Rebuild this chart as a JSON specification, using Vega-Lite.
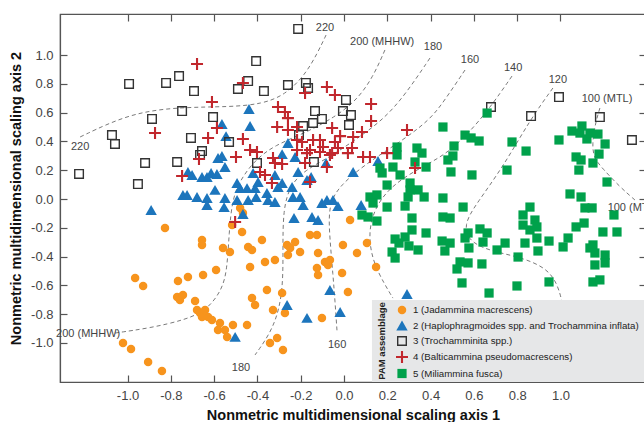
{
  "$schema": "https://vega.github.io/schema/vega-lite/v6.json",
  "width": 586,
  "height": 368,
  "autosize": {"type": "none"},
  "padding": {"left": 60, "top": 14, "right": 0, "bottom": 40},
  "background": "white",
  "config": {
    "view": {"stroke": "#555", "strokeWidth": 1.2},
    "font": "Liberation Sans, Arial, sans-serif",
    "legend": {"orient": "none", "legendX": 330, "legendY": 286, "title": null, "padding": 5, "rowPadding": -1, "labelFontSize": 9.7, "labelColor": "#222", "labelLimit": 400, "labelOffset": 4}
  },
  "resolve": {"axis": {"x": "independent", "y": "independent"}},
  "datasets": {
    "contours": [
      {"c": "220", "i": 0, "x": -1.219, "y": 0.431},
      {"c": "220", "i": 1, "x": -0.988, "y": 0.597},
      {"c": "220", "i": 2, "x": -0.757, "y": 0.639},
      {"c": "220", "i": 3, "x": -0.527, "y": 0.639},
      {"c": "220", "i": 4, "x": -0.379, "y": 0.66},
      {"c": "220", "i": 5, "x": -0.273, "y": 0.722},
      {"c": "220", "i": 6, "x": -0.18, "y": 0.861},
      {"c": "220", "i": 7, "x": -0.12, "y": 1.021},
      {"c": "220", "i": 8, "x": -0.083, "y": 1.139},
      {"c": "200", "i": 0, "x": 0.189, "y": 1.035},
      {"c": "200", "i": 1, "x": 0.134, "y": 0.847},
      {"c": "200", "i": 2, "x": 0.06, "y": 0.688},
      {"c": "200", "i": 3, "x": -0.042, "y": 0.569},
      {"c": "200", "i": 4, "x": -0.18, "y": 0.458},
      {"c": "200", "i": 5, "x": -0.319, "y": 0.375},
      {"c": "200", "i": 6, "x": -0.411, "y": 0.271},
      {"c": "200", "i": 7, "x": -0.48, "y": 0.132},
      {"c": "200", "i": 8, "x": -0.517, "y": -0.007},
      {"c": "200", "i": 9, "x": -0.531, "y": -0.236},
      {"c": "200", "i": 10, "x": -0.54, "y": -0.493},
      {"c": "200", "i": 11, "x": -0.564, "y": -0.632},
      {"c": "200", "i": 12, "x": -0.633, "y": -0.771},
      {"c": "200", "i": 13, "x": -0.734, "y": -0.84},
      {"c": "200", "i": 14, "x": -0.896, "y": -0.896},
      {"c": "200", "i": 15, "x": -1.058, "y": -0.931},
      {"c": "180", "i": 0, "x": 0.397, "y": 0.979},
      {"c": "180", "i": 1, "x": 0.282, "y": 0.722},
      {"c": "180", "i": 2, "x": 0.18, "y": 0.549},
      {"c": "180", "i": 3, "x": 0.051, "y": 0.41},
      {"c": "180", "i": 4, "x": -0.065, "y": 0.292},
      {"c": "180", "i": 5, "x": -0.18, "y": 0.201},
      {"c": "180", "i": 6, "x": -0.249, "y": 0.097},
      {"c": "180", "i": 7, "x": -0.282, "y": -0.076},
      {"c": "180", "i": 8, "x": -0.282, "y": -0.354},
      {"c": "180", "i": 9, "x": -0.282, "y": -0.653},
      {"c": "180", "i": 10, "x": -0.323, "y": -0.896},
      {"c": "180", "i": 11, "x": -0.411, "y": -1.083},
      {"c": "160", "i": 0, "x": 0.559, "y": 0.896},
      {"c": "160", "i": 1, "x": 0.466, "y": 0.688},
      {"c": "160", "i": 2, "x": 0.397, "y": 0.549},
      {"c": "160", "i": 3, "x": 0.259, "y": 0.396},
      {"c": "160", "i": 4, "x": 0.106, "y": 0.25},
      {"c": "160", "i": 5, "x": -0.018, "y": 0.097},
      {"c": "160", "i": 6, "x": -0.074, "y": -0.042},
      {"c": "160", "i": 7, "x": -0.065, "y": -0.285},
      {"c": "160", "i": 8, "x": -0.051, "y": -0.528},
      {"c": "160", "i": 9, "x": -0.042, "y": -0.701},
      {"c": "160", "i": 10, "x": -0.032, "y": -0.924},
      {"c": "140", "i": 0, "x": 0.776, "y": 0.854},
      {"c": "140", "i": 1, "x": 0.674, "y": 0.632},
      {"c": "140", "i": 2, "x": 0.568, "y": 0.444},
      {"c": "140", "i": 3, "x": 0.466, "y": 0.306},
      {"c": "140", "i": 4, "x": 0.351, "y": 0.215},
      {"c": "140", "i": 5, "x": 0.236, "y": 0.111},
      {"c": "140", "i": 6, "x": 0.152, "y": -0.028},
      {"c": "140", "i": 7, "x": 0.111, "y": -0.215},
      {"c": "140", "i": 8, "x": 0.129, "y": -0.424},
      {"c": "140", "i": 9, "x": 0.189, "y": -0.597},
      {"c": "140", "i": 10, "x": 0.226, "y": -0.688},
      {"c": "120", "i": 0, "x": 0.965, "y": 0.771},
      {"c": "120", "i": 1, "x": 0.859, "y": 0.549},
      {"c": "120", "i": 2, "x": 0.734, "y": 0.222},
      {"c": "120", "i": 3, "x": 0.614, "y": -0.028},
      {"c": "120", "i": 4, "x": 0.55, "y": -0.181},
      {"c": "120", "i": 5, "x": 0.582, "y": -0.306},
      {"c": "120", "i": 6, "x": 0.697, "y": -0.368},
      {"c": "120", "i": 7, "x": 0.813, "y": -0.403},
      {"c": "120", "i": 8, "x": 0.938, "y": -0.479},
      {"c": "120", "i": 9, "x": 0.988, "y": -0.597},
      {"c": "120", "i": 10, "x": 1.007, "y": -0.715},
      {"c": "100", "i": 0, "x": 1.182, "y": 0.632},
      {"c": "100", "i": 1, "x": 1.159, "y": 0.514},
      {"c": "100", "i": 2, "x": 1.146, "y": 0.375},
      {"c": "100", "i": 3, "x": 1.155, "y": 0.285},
      {"c": "100", "i": 4, "x": 1.192, "y": 0.215},
      {"c": "100", "i": 5, "x": 1.275, "y": 0.083},
      {"c": "100", "i": 6, "x": 1.344, "y": -0.007}
    ],
    "labels": [
      {"t": "220", "x": -1.219, "y": 0.361},
      {"t": "220", "x": -0.088, "y": 1.188},
      {"t": "200 (MHHW)", "x": 0.176, "y": 1.09},
      {"t": "200 (MHHW)", "x": -1.182, "y": -0.938},
      {"t": "180", "x": 0.411, "y": 1.056},
      {"t": "180", "x": -0.476, "y": -1.174},
      {"t": "160", "x": 0.582, "y": 0.965},
      {"t": "160", "x": -0.032, "y": -1.014},
      {"t": "140", "x": 0.781, "y": 0.91},
      {"t": "120", "x": 0.988, "y": 0.826},
      {"t": "100 (MTL)", "x": 1.215, "y": 0.694},
      {"t": "100 (MTL)", "x": 1.335, "y": -0.062}
    ],
    "legendbox": [
      {"x": 0.129, "x2": 1.395, "y": -0.701, "y2": -1.271}
    ],
    "legendtitle": [
      {"t": "PAM assemblage", "x": 0.176, "y": -0.986}
    ],
    "points": [
      {"g": 1, "x": -0.827, "y": -0.201}, {"g": 1, "x": -0.965, "y": -0.549}, {"g": 1, "x": -0.928, "y": -0.604},
      {"g": 1, "x": -0.656, "y": -0.285}, {"g": 1, "x": -0.656, "y": -0.319}, {"g": 1, "x": -0.591, "y": -0.493},
      {"g": 1, "x": -0.651, "y": -0.528}, {"g": 1, "x": -0.721, "y": -0.542}, {"g": 1, "x": -0.767, "y": -0.569},
      {"g": 1, "x": -0.771, "y": -0.681}, {"g": 1, "x": -0.758, "y": -0.701}, {"g": 1, "x": -0.744, "y": -0.667},
      {"g": 1, "x": -0.688, "y": -0.708}, {"g": 1, "x": -0.679, "y": -0.771}, {"g": 1, "x": -0.665, "y": -0.792},
      {"g": 1, "x": -0.656, "y": -0.819}, {"g": 1, "x": -0.628, "y": -0.819}, {"g": 1, "x": -0.61, "y": -0.84},
      {"g": 1, "x": -0.573, "y": -0.861}, {"g": 1, "x": -0.582, "y": -0.91}, {"g": 1, "x": -1.021, "y": -1.0},
      {"g": 1, "x": -0.984, "y": -1.042}, {"g": 1, "x": -0.905, "y": -1.132}, {"g": 1, "x": -0.841, "y": -1.194},
      {"g": 1, "x": -0.48, "y": -0.062}, {"g": 1, "x": -0.467, "y": -0.097}, {"g": 1, "x": -0.517, "y": -0.181},
      {"g": 1, "x": -0.471, "y": -0.229}, {"g": 1, "x": -0.559, "y": -0.34}, {"g": 1, "x": -0.527, "y": -0.368},
      {"g": 1, "x": -0.443, "y": -0.333}, {"g": 1, "x": -0.425, "y": -0.354}, {"g": 1, "x": -0.379, "y": -0.285},
      {"g": 1, "x": -0.263, "y": -0.319}, {"g": 1, "x": -0.249, "y": -0.34}, {"g": 1, "x": -0.226, "y": -0.299},
      {"g": 1, "x": -0.203, "y": -0.368}, {"g": 1, "x": -0.259, "y": -0.389}, {"g": 1, "x": -0.319, "y": -0.424},
      {"g": 1, "x": -0.365, "y": -0.437}, {"g": 1, "x": -0.434, "y": -0.472}, {"g": 1, "x": -0.157, "y": -0.25},
      {"g": 1, "x": -0.125, "y": -0.25}, {"g": 1, "x": -0.12, "y": -0.375}, {"g": 1, "x": -0.088, "y": -0.437},
      {"g": 1, "x": -0.065, "y": -0.424}, {"g": 1, "x": -0.125, "y": -0.479}, {"g": 1, "x": -0.12, "y": -0.528},
      {"g": 1, "x": -0.074, "y": -0.458}, {"g": 1, "x": -0.009, "y": -0.514}, {"g": 1, "x": -0.005, "y": -0.319},
      {"g": 1, "x": 0.06, "y": -0.375}, {"g": 1, "x": 0.106, "y": -0.306}, {"g": 1, "x": 0.148, "y": -0.472},
      {"g": 1, "x": 0.028, "y": -0.146}, {"g": 1, "x": 0.018, "y": -0.646}, {"g": 1, "x": -0.356, "y": -0.632},
      {"g": 1, "x": -0.286, "y": -0.653}, {"g": 1, "x": -0.425, "y": -0.688}, {"g": 1, "x": -0.411, "y": -0.736},
      {"g": 1, "x": -0.328, "y": -0.771}, {"g": 1, "x": -0.273, "y": -0.792}, {"g": 1, "x": -0.642, "y": -0.771},
      {"g": 1, "x": -0.55, "y": -0.91}, {"g": 1, "x": -0.513, "y": -0.875}, {"g": 1, "x": -0.448, "y": -0.875},
      {"g": 1, "x": -0.54, "y": -0.958}, {"g": 1, "x": -0.309, "y": -0.965}, {"g": 1, "x": -0.342, "y": -1.0},
      {"g": 1, "x": -0.282, "y": -1.049}, {"g": 1, "x": -0.102, "y": -0.826},
      {"g": 2, "x": -0.721, "y": 0.188}, {"g": 2, "x": -0.702, "y": 0.167}, {"g": 2, "x": -0.656, "y": 0.153},
      {"g": 2, "x": -0.633, "y": 0.153}, {"g": 2, "x": -0.614, "y": 0.181}, {"g": 2, "x": -0.587, "y": 0.174},
      {"g": 2, "x": -0.582, "y": 0.285}, {"g": 2, "x": -0.564, "y": 0.521}, {"g": 2, "x": -0.744, "y": 0.028},
      {"g": 2, "x": -0.725, "y": 0.028}, {"g": 2, "x": -0.679, "y": 0.014}, {"g": 2, "x": -0.633, "y": 0.007},
      {"g": 2, "x": -0.596, "y": 0.063}, {"g": 2, "x": -0.633, "y": -0.042}, {"g": 2, "x": -0.891, "y": -0.076},
      {"g": 2, "x": -0.439, "y": 0.625}, {"g": 2, "x": -0.434, "y": 0.507}, {"g": 2, "x": -0.545, "y": 0.437},
      {"g": 2, "x": -0.259, "y": 0.389}, {"g": 2, "x": -0.286, "y": 0.312}, {"g": 2, "x": -0.564, "y": 0.299},
      {"g": 2, "x": -0.226, "y": 0.292}, {"g": 2, "x": -0.55, "y": 0.222}, {"g": 2, "x": -0.494, "y": 0.111},
      {"g": 2, "x": -0.48, "y": 0.076}, {"g": 2, "x": -0.448, "y": 0.076}, {"g": 2, "x": -0.397, "y": 0.118},
      {"g": 2, "x": -0.411, "y": 0.076}, {"g": 2, "x": -0.356, "y": 0.042}, {"g": 2, "x": -0.319, "y": 0.167},
      {"g": 2, "x": -0.305, "y": 0.083}, {"g": 2, "x": -0.286, "y": 0.111}, {"g": 2, "x": -0.24, "y": 0.083},
      {"g": 2, "x": -0.55, "y": 0.007}, {"g": 2, "x": -0.554, "y": -0.056}, {"g": 2, "x": -0.494, "y": -0.007},
      {"g": 2, "x": -0.443, "y": -0.007}, {"g": 2, "x": -0.406, "y": 0.014}, {"g": 2, "x": -0.351, "y": -0.007},
      {"g": 2, "x": -0.319, "y": -0.021}, {"g": 2, "x": -0.236, "y": 0.014}, {"g": 2, "x": -0.231, "y": -0.132},
      {"g": 2, "x": -0.083, "y": 0.25}, {"g": 2, "x": 0.042, "y": 0.188}, {"g": 2, "x": 0.157, "y": 0.264},
      {"g": 2, "x": -0.212, "y": 0.188}, {"g": 2, "x": -0.171, "y": 0.132}, {"g": 2, "x": -0.152, "y": 0.153},
      {"g": 2, "x": -0.203, "y": 0.014}, {"g": 2, "x": -0.189, "y": -0.042}, {"g": 2, "x": -0.102, "y": -0.028},
      {"g": 2, "x": -0.079, "y": -0.007}, {"g": 2, "x": -0.051, "y": -0.007}, {"g": 2, "x": -0.028, "y": -0.049},
      {"g": 2, "x": 0.079, "y": -0.042}, {"g": 2, "x": -0.148, "y": -0.125}, {"g": 2, "x": -0.12, "y": -0.146},
      {"g": 2, "x": -0.467, "y": -0.104}, {"g": 2, "x": -0.065, "y": -0.632}, {"g": 2, "x": -0.018, "y": -0.785},
      {"g": 2, "x": -0.171, "y": -0.826}, {"g": 2, "x": -0.263, "y": -0.736}, {"g": 2, "x": -0.503, "y": -0.958},
      {"g": 2, "x": 0.291, "y": -0.66}, {"g": 2, "x": -0.42, "y": 0.181},
      {"g": 3, "x": -1.224, "y": 0.174}, {"g": 3, "x": -0.993, "y": 0.799}, {"g": 3, "x": -0.822, "y": 0.806},
      {"g": 3, "x": -0.762, "y": 0.854}, {"g": 3, "x": -0.693, "y": 0.75}, {"g": 3, "x": -0.887, "y": 0.556},
      {"g": 3, "x": -0.748, "y": 0.611}, {"g": 3, "x": -0.605, "y": 0.569}, {"g": 3, "x": -1.072, "y": 0.444},
      {"g": 3, "x": -1.058, "y": 0.382}, {"g": 3, "x": -0.707, "y": 0.424}, {"g": 3, "x": -0.656, "y": 0.333},
      {"g": 3, "x": -0.665, "y": 0.306}, {"g": 3, "x": -0.919, "y": 0.25}, {"g": 3, "x": -0.771, "y": 0.257},
      {"g": 3, "x": -0.952, "y": 0.104}, {"g": 3, "x": -0.212, "y": 1.181}, {"g": 3, "x": -0.406, "y": 0.958},
      {"g": 3, "x": -0.443, "y": 0.819}, {"g": 3, "x": -0.49, "y": 0.764}, {"g": 3, "x": -0.37, "y": 0.75},
      {"g": 3, "x": -0.259, "y": 0.792}, {"g": 3, "x": -0.176, "y": 0.806}, {"g": 3, "x": -0.166, "y": 0.771},
      {"g": 3, "x": 0.009, "y": 0.688}, {"g": 3, "x": -0.134, "y": 0.611}, {"g": 3, "x": -0.102, "y": 0.556},
      {"g": 3, "x": -0.143, "y": 0.528}, {"g": 3, "x": -0.005, "y": 0.611}, {"g": 3, "x": 0.032, "y": 0.583},
      {"g": 3, "x": -0.189, "y": 0.507}, {"g": 3, "x": 0.023, "y": 0.514}, {"g": 3, "x": -0.531, "y": 0.396},
      {"g": 3, "x": -0.208, "y": 0.444}, {"g": 3, "x": -0.402, "y": 0.25}, {"g": 3, "x": -0.139, "y": 0.257},
      {"g": 3, "x": 0.679, "y": 0.639}, {"g": 3, "x": 0.864, "y": 0.576}, {"g": 3, "x": 0.993, "y": 0.708},
      {"g": 3, "x": 1.182, "y": 0.569}, {"g": 3, "x": 1.33, "y": 0.41},
      {"g": 5, "x": 0.245, "y": 0.361}, {"g": 5, "x": 0.245, "y": 0.306}, {"g": 5, "x": 0.337, "y": 0.354},
      {"g": 5, "x": 0.36, "y": 0.319}, {"g": 5, "x": 0.166, "y": 0.215}, {"g": 5, "x": 0.176, "y": 0.181},
      {"g": 5, "x": 0.226, "y": 0.222}, {"g": 5, "x": 0.259, "y": 0.167}, {"g": 5, "x": 0.305, "y": 0.111},
      {"g": 5, "x": 0.328, "y": 0.257}, {"g": 5, "x": 0.379, "y": 0.222}, {"g": 5, "x": 0.199, "y": 0.097},
      {"g": 5, "x": 0.12, "y": 0.014}, {"g": 5, "x": 0.152, "y": 0.028}, {"g": 5, "x": 0.305, "y": 0.063},
      {"g": 5, "x": 0.342, "y": 0.063}, {"g": 5, "x": 0.296, "y": 0.014}, {"g": 5, "x": 0.37, "y": 0.014},
      {"g": 5, "x": 0.457, "y": 0.007}, {"g": 5, "x": 0.134, "y": -0.028}, {"g": 5, "x": 0.199, "y": -0.056},
      {"g": 5, "x": 0.282, "y": -0.049}, {"g": 5, "x": 0.083, "y": -0.111}, {"g": 5, "x": 0.111, "y": -0.125},
      {"g": 5, "x": 0.152, "y": -0.153}, {"g": 5, "x": 0.314, "y": -0.132}, {"g": 5, "x": 0.457, "y": -0.125},
      {"g": 5, "x": 0.49, "y": -0.132}, {"g": 5, "x": 0.314, "y": -0.215}, {"g": 5, "x": 0.379, "y": -0.236},
      {"g": 5, "x": 0.282, "y": -0.264}, {"g": 5, "x": 0.236, "y": -0.278}, {"g": 5, "x": 0.254, "y": -0.306},
      {"g": 5, "x": 0.3, "y": -0.326}, {"g": 5, "x": 0.342, "y": -0.354}, {"g": 5, "x": 0.222, "y": -0.368},
      {"g": 5, "x": 0.236, "y": -0.41}, {"g": 5, "x": 0.453, "y": -0.292}, {"g": 5, "x": 0.466, "y": -0.361},
      {"g": 5, "x": 0.49, "y": -0.306}, {"g": 5, "x": 0.48, "y": 0.271}, {"g": 5, "x": 0.457, "y": 0.5},
      {"g": 5, "x": 0.559, "y": 0.444}, {"g": 5, "x": 0.587, "y": 0.424}, {"g": 5, "x": 0.624, "y": 0.403},
      {"g": 5, "x": 0.508, "y": 0.368}, {"g": 5, "x": 0.503, "y": 0.299}, {"g": 5, "x": 0.494, "y": 0.188},
      {"g": 5, "x": 0.591, "y": 0.167}, {"g": 5, "x": 0.661, "y": 0.597}, {"g": 5, "x": 0.776, "y": 0.396},
      {"g": 5, "x": 0.841, "y": 0.333}, {"g": 5, "x": 0.753, "y": 0.201}, {"g": 5, "x": 0.55, "y": -0.056},
      {"g": 5, "x": 0.859, "y": -0.056}, {"g": 5, "x": 0.993, "y": 0.41}, {"g": 5, "x": 1.053, "y": 0.472},
      {"g": 5, "x": 1.099, "y": 0.507}, {"g": 5, "x": 1.09, "y": 0.458}, {"g": 5, "x": 1.122, "y": 0.417},
      {"g": 5, "x": 1.136, "y": 0.458}, {"g": 5, "x": 1.173, "y": 0.451}, {"g": 5, "x": 1.206, "y": 0.382},
      {"g": 5, "x": 1.178, "y": 0.312}, {"g": 5, "x": 1.072, "y": 0.292}, {"g": 5, "x": 1.095, "y": 0.271},
      {"g": 5, "x": 1.085, "y": 0.201}, {"g": 5, "x": 1.15, "y": 0.25}, {"g": 5, "x": 1.215, "y": 0.118},
      {"g": 5, "x": 1.044, "y": 0.035}, {"g": 5, "x": 1.095, "y": 0.014}, {"g": 5, "x": 1.113, "y": -0.062},
      {"g": 5, "x": 1.146, "y": -0.062}, {"g": 5, "x": 0.573, "y": -0.236}, {"g": 5, "x": 0.559, "y": -0.271},
      {"g": 5, "x": 0.628, "y": -0.208}, {"g": 5, "x": 0.661, "y": -0.236}, {"g": 5, "x": 0.642, "y": -0.299},
      {"g": 5, "x": 0.577, "y": -0.34}, {"g": 5, "x": 0.707, "y": -0.354}, {"g": 5, "x": 0.744, "y": -0.306},
      {"g": 5, "x": 0.536, "y": -0.437}, {"g": 5, "x": 0.573, "y": -0.444}, {"g": 5, "x": 0.522, "y": -0.486},
      {"g": 5, "x": 0.637, "y": -0.451}, {"g": 5, "x": 0.545, "y": -0.583}, {"g": 5, "x": 0.67, "y": -0.653},
      {"g": 5, "x": 0.799, "y": -0.604}, {"g": 5, "x": 0.804, "y": -0.403}, {"g": 5, "x": 0.836, "y": -0.306},
      {"g": 5, "x": 0.827, "y": -0.111}, {"g": 5, "x": 0.827, "y": -0.181}, {"g": 5, "x": 0.859, "y": -0.215},
      {"g": 5, "x": 0.882, "y": -0.146}, {"g": 5, "x": 0.891, "y": -0.194}, {"g": 5, "x": 0.891, "y": -0.271},
      {"g": 5, "x": 0.896, "y": -0.361}, {"g": 5, "x": 0.947, "y": -0.292}, {"g": 5, "x": 0.947, "y": -0.576},
      {"g": 5, "x": 1.012, "y": -0.333}, {"g": 5, "x": 1.035, "y": -0.271}, {"g": 5, "x": 1.072, "y": -0.194},
      {"g": 5, "x": 1.109, "y": -0.167}, {"g": 5, "x": 1.247, "y": -0.111}, {"g": 5, "x": 1.196, "y": -0.229},
      {"g": 5, "x": 1.261, "y": -0.229}, {"g": 5, "x": 1.136, "y": -0.34}, {"g": 5, "x": 1.15, "y": -0.319},
      {"g": 5, "x": 1.159, "y": -0.375}, {"g": 5, "x": 1.206, "y": -0.389}, {"g": 5, "x": 1.206, "y": -0.444},
      {"g": 5, "x": 1.159, "y": -0.458}, {"g": 5, "x": 1.15, "y": -0.576}, {"g": 5, "x": 1.182, "y": -0.562},
      {"g": 4, "x": -0.679, "y": 0.938}, {"g": 4, "x": -0.61, "y": 0.674}, {"g": 4, "x": -0.873, "y": 0.458},
      {"g": 4, "x": -0.628, "y": 0.424}, {"g": 4, "x": -0.587, "y": 0.493}, {"g": 4, "x": -0.67, "y": 0.278},
      {"g": 4, "x": -0.748, "y": 0.16}, {"g": 4, "x": -0.467, "y": 0.806}, {"g": 4, "x": -0.467, "y": 0.417},
      {"g": 4, "x": -0.434, "y": 0.34}, {"g": 4, "x": -0.402, "y": 0.326}, {"g": 4, "x": -0.499, "y": 0.292},
      {"g": 4, "x": -0.305, "y": 0.639}, {"g": 4, "x": -0.273, "y": 0.604}, {"g": 4, "x": -0.259, "y": 0.562},
      {"g": 4, "x": -0.309, "y": 0.5}, {"g": 4, "x": -0.259, "y": 0.479}, {"g": 4, "x": -0.217, "y": 0.5},
      {"g": 4, "x": -0.217, "y": 0.41}, {"g": 4, "x": -0.217, "y": 0.34}, {"g": 4, "x": -0.328, "y": 0.285},
      {"g": 4, "x": -0.079, "y": 0.778}, {"g": 4, "x": -0.042, "y": 0.722}, {"g": 4, "x": -0.18, "y": 0.736},
      {"g": 4, "x": 0.125, "y": 0.66}, {"g": 4, "x": 0.125, "y": 0.542}, {"g": 4, "x": -0.055, "y": 0.493},
      {"g": 4, "x": -0.018, "y": 0.437}, {"g": 4, "x": 0.083, "y": 0.465}, {"g": 4, "x": 0.042, "y": 0.431},
      {"g": 4, "x": 0.291, "y": 0.479}, {"g": 4, "x": -0.194, "y": 0.396}, {"g": 4, "x": -0.143, "y": 0.41},
      {"g": 4, "x": -0.111, "y": 0.41}, {"g": 4, "x": -0.097, "y": 0.361}, {"g": 4, "x": -0.042, "y": 0.396},
      {"g": 4, "x": -0.028, "y": 0.354}, {"g": 4, "x": -0.157, "y": 0.34}, {"g": 4, "x": 0.037, "y": 0.354},
      {"g": 4, "x": -0.065, "y": 0.306}, {"g": 4, "x": 0.018, "y": 0.319}, {"g": 4, "x": 0.088, "y": 0.292},
      {"g": 4, "x": 0.12, "y": 0.292}, {"g": 4, "x": 0.199, "y": 0.319}, {"g": 4, "x": -0.18, "y": 0.25},
      {"g": 4, "x": -0.079, "y": 0.222}, {"g": 4, "x": -0.319, "y": 0.25}, {"g": 4, "x": -0.286, "y": 0.243},
      {"g": 4, "x": -0.388, "y": 0.188}, {"g": 4, "x": -0.365, "y": 0.167}, {"g": 4, "x": -0.333, "y": 0.111},
      {"g": 4, "x": -0.157, "y": 0.118}, {"g": 4, "x": 0.328, "y": 0.215}, {"g": 4, "x": -0.503, "y": -0.16},
      {"g": 4, "x": -0.171, "y": 0.319}, {"g": 4, "x": -0.111, "y": 0.326}, {"g": 4, "x": -0.055, "y": 0.319}
    ]
  },
  "layer": [
    {
      "data": {"name": "contours"},
      "mark": {"type": "line", "interpolate": "basis", "strokeDash": [4, 3], "strokeWidth": 1, "color": "#7a7a7a"},
      "encoding": {
        "x": {"field": "x", "type": "quantitative", "scale": {"domain": [-1.312, 1.395], "nice": false, "zero": false},
          "axis": {"orient": "top", "values": [-1, -0.8, -0.6, -0.4, -0.2, 0, 0.2, 0.4, 0.6, 0.8, 1], "labels": false, "title": null, "tickSize": -7, "tickColor": "#555", "tickWidth": 1.2, "domainColor": "#555", "domainWidth": 1.2, "grid": false}},
        "y": {"field": "y", "type": "quantitative", "scale": {"domain": [-1.271, 1.285], "nice": false, "zero": false},
          "axis": {"orient": "right", "values": [-1, -0.8, -0.6, -0.4, -0.2, 0, 0.2, 0.4, 0.6, 0.8, 1], "labels": false, "title": null, "tickSize": -7, "tickColor": "#555", "tickWidth": 1.2, "domainColor": "#555", "domainWidth": 1.2, "grid": false}},
        "detail": {"field": "c", "type": "nominal"},
        "order": {"field": "i", "type": "quantitative"}
      }
    },
    {
      "data": {"name": "labels"},
      "mark": {"type": "text", "fontSize": 11, "color": "#444", "align": "center", "baseline": "middle"},
      "encoding": {
        "x": {"field": "x", "type": "quantitative", "axis": null},
        "y": {"field": "y", "type": "quantitative", "axis": null},
        "text": {"field": "t", "type": "nominal"}
      }
    },
    {
      "data": {"name": "points"},
      "mark": {"type": "point", "opacity": 1, "filled": true, "strokeWidth": 0},
      "encoding": {
        "x": {"field": "x", "type": "quantitative",
          "axis": {"orient": "bottom", "values": [-1, -0.8, -0.6, -0.4, -0.2, 0, 0.2, 0.4, 0.6, 0.8, 1], "labelExpr": "replace(format(datum.value, '.1f'), '−', '-')", "tickSize": -7, "tickColor": "#555", "tickWidth": 1.2, "domainColor": "#555", "domainWidth": 1.2, "grid": false, "labelFontSize": 13, "labelColor": "#444", "labelPadding": 14, "title": "Nonmetric multidimensional scaling axis 1", "titleFontWeight": "bold", "titleFontSize": 14.5, "titleColor": "#111", "titlePadding": 6}},
        "y": {"field": "y", "type": "quantitative",
          "axis": {"orient": "left", "values": [-1, -0.8, -0.6, -0.4, -0.2, 0, 0.2, 0.4, 0.6, 0.8, 1], "labelExpr": "replace(format(datum.value, '.1f'), '−', '-')", "tickSize": -7, "tickColor": "#555", "tickWidth": 1.2, "domainColor": "#555", "domainWidth": 1.2, "grid": false, "labelFontSize": 13, "labelColor": "#444", "labelPadding": 14, "title": "Nonmetric multidimensional scaling axis 2", "titleFontWeight": "bold", "titleFontSize": 14.5, "titleColor": "#111", "titlePadding": 7}},
        "fill": {"field": "g", "type": "nominal",
          "scale": {"domain": [1, 2, 3, 4, 5], "range": ["#f7941d", "#1c75bc", "#333333", "#c1272d", "#00a14b"]},
          "legend": {"labelExpr": "['', '1 (Jadammina macrescens)', '2 (Haplophragmoides spp. and Trochammina inflata)', '3 (Trochamminita spp.)', '4 (Balticammina pseudomacrescens)', '5 (Miliammina fusca)'][datum.value]"}},
        "shape": {"field": "g", "type": "nominal",
          "scale": {"domain": [1, 2, 3, 4, 5], "range": ["circle", "triangle-up", "M-1,-1H1V1H-1Z M-0.72,-0.72V0.72H0.72V-0.72Z", "M-1,-0.175H-0.175V-1H0.175V-0.175H1V0.175H0.175V1H-0.175V0.175H-1Z", "square"]},
          "legend": {"labelExpr": "['', '1 (Jadammina macrescens)', '2 (Haplophragmoides spp. and Trochammina inflata)', '3 (Trochamminita spp.)', '4 (Balticammina pseudomacrescens)', '5 (Miliammina fusca)'][datum.value]"}},
        "size": {"field": "g", "type": "nominal",
          "scale": {"type": "ordinal", "domain": [1, 2, 3, 4, 5], "range": [72, 130, 100, 144, 85]},
          "legend": {"labelExpr": "['', '1 (Jadammina macrescens)', '2 (Haplophragmoides spp. and Trochammina inflata)', '3 (Trochamminita spp.)', '4 (Balticammina pseudomacrescens)', '5 (Miliammina fusca)'][datum.value]"}}
      }
    },
    {
      "data": {"name": "legendbox"},
      "mark": {"type": "rect", "fill": "#e6e7e8"},
      "encoding": {
        "x": {"field": "x", "type": "quantitative", "axis": null},
        "x2": {"field": "x2"},
        "y": {"field": "y", "type": "quantitative", "axis": null},
        "y2": {"field": "y2"}
      }
    },
    {
      "data": {"name": "legendtitle"},
      "mark": {"type": "text", "angle": 270, "fontSize": 9.5, "fontWeight": "bold", "color": "#222", "align": "center", "baseline": "middle"},
      "encoding": {
        "x": {"field": "x", "type": "quantitative", "axis": null},
        "y": {"field": "y", "type": "quantitative", "axis": null},
        "text": {"field": "t", "type": "nominal"}
      }
    }
  ]
}
